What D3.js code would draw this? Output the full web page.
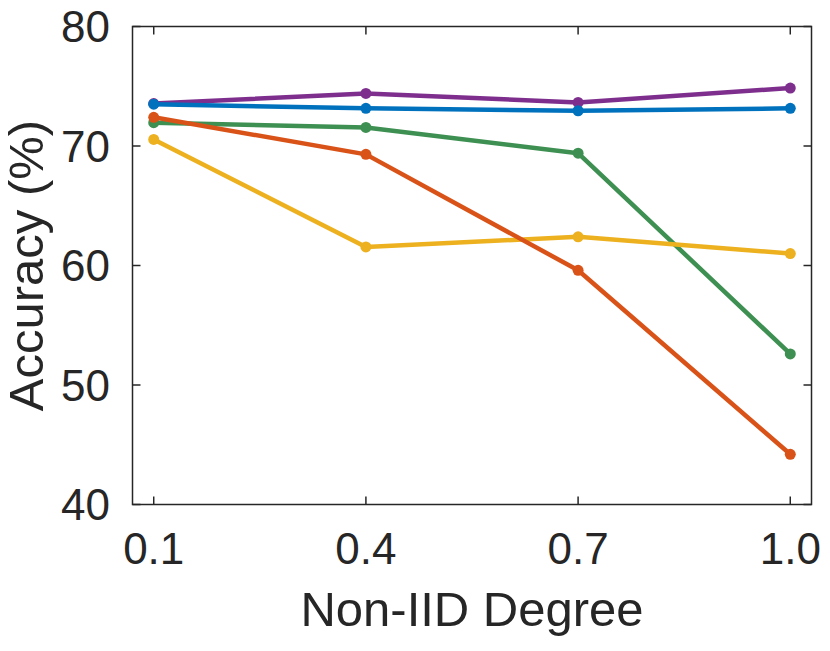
<!doctype html>
<html lang="en">
   <head>
      <meta charset="utf-8">
      <title>Accuracy vs Non-IID Degree</title>
      <script src="https://d3js.org/d3.v7.min.js"></script>
      <style>
         body { margin: 0; background: #fff; }
         text { font-family: "Liberation Sans", Arial, Helvetica, sans-serif; fill: #262626; }
      </style>
   </head>
   <body>
      <svg id="chart" width="830" height="651"></svg>
      <script>
      // x positions (non-IID degree)
      var degrees = [0.1, 0.4, 0.7, 1.0];
      var xTicks = ["0.1", "0.4", "0.7", "1.0"];
      var yTicks = [40, 50, 60, 70, 80];

      // accuracy per method
      var purpleVals = [73.55, 74.4, 73.65, 74.85];
      var greenVals = [71.95, 71.55, 69.4, 52.6];
      var yellowVals = [70.55, 61.55, 62.4, 61.0];
      var orangeVals = [72.4, 69.3, 59.6, 44.2];
      var blueVals = [73.5, 73.15, 72.95, 73.15];

      // drawn in this order so overlaps look like the original
      var series = [
         { vals: purpleVals, color: "#7E2F8E" },
         { vals: greenVals, color: "#3E9052" },
         { vals: yellowVals, color: "#EDB120" },
         { vals: orangeVals, color: "#D95319" },
         { vals: blueVals, color: "#0072BD" }
      ];

      var plotLeft = 132.5, plotRight = 811.5, plotTop = 26.5, plotBottom = 504.5;
      var svg = d3.select("#chart");

      var x = d3.scaleLinear().domain([0.07, 1.03]).range([plotLeft, plotRight]);
      var y = d3.scaleLinear().domain([40, 80]).range([plotBottom, plotTop]);

      var axisColor = "#262626";
      var tickLen = 8;

      // box
      svg.append("rect")
         .attr("x", plotLeft).attr("y", plotTop)
         .attr("width", plotRight - plotLeft).attr("height", plotBottom - plotTop)
         .attr("fill", "none").attr("stroke", axisColor).attr("stroke-width", 1.5);

      // x ticks, inside on bottom and top
      var xt = svg.append("g");
      degrees.forEach(function(d, i) {
         xt.append("line").attr("x1", x(d)).attr("x2", x(d))
            .attr("y1", plotBottom).attr("y2", plotBottom - tickLen)
            .attr("stroke", axisColor).attr("stroke-width", 1.5);
         xt.append("line").attr("x1", x(d)).attr("x2", x(d))
            .attr("y1", plotTop).attr("y2", plotTop + tickLen)
            .attr("stroke", axisColor).attr("stroke-width", 1.5);
         xt.append("text").attr("x", x(d)).attr("y", 564)
            .attr("text-anchor", "middle").attr("font-size", 44)
            .text(xTicks[i]);
      });

      // y ticks, inside on left and right
      var yt = svg.append("g");
      yTicks.forEach(function(v) {
         yt.append("line").attr("x1", plotLeft).attr("x2", plotLeft + tickLen)
            .attr("y1", y(v)).attr("y2", y(v))
            .attr("stroke", axisColor).attr("stroke-width", 1.5);
         yt.append("line").attr("x1", plotRight).attr("x2", plotRight - tickLen)
            .attr("y1", y(v)).attr("y2", y(v))
            .attr("stroke", axisColor).attr("stroke-width", 1.5);
         yt.append("text").attr("x", 110).attr("y", y(v) + 15.7)
            .attr("text-anchor", "end").attr("font-size", 44)
            .text(v);
      });

      // axis titles
      svg.append("text")
         .attr("x", (plotLeft + plotRight) / 2).attr("y", 626)
         .attr("text-anchor", "middle").attr("font-size", 49)
         .text("Non-IID Degree");

      svg.append("text")
         .attr("transform", "translate(43," + ((plotTop + plotBottom) / 2) + ") rotate(-90)")
         .attr("text-anchor", "middle").attr("font-size", 49)
         .text("Accuracy (%)");

      var line = d3.line()
         .x(function(d, i) { return x(degrees[i]); })
         .y(function(d) { return y(d); });

      series.forEach(function(s) {
         var g = svg.append("g");
         g.append("path")
            .datum(s.vals)
            .attr("d", line)
            .attr("fill", "none")
            .attr("stroke", s.color)
            .attr("stroke-width", 4.5)
            .attr("stroke-linejoin", "round");
         g.selectAll("circle")
            .data(s.vals)
            .enter().append("circle")
            .attr("cx", function(d, i) { return x(degrees[i]); })
            .attr("cy", function(d) { return y(d); })
            .attr("r", 5.5)
            .attr("fill", s.color);
      });
      </script>
   </body>
</html>
